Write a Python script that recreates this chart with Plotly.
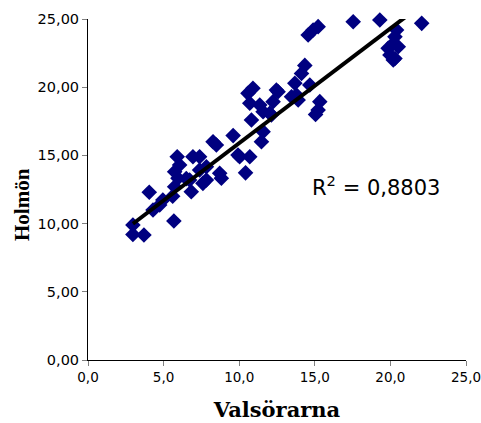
import plotly.graph_objects as go

valsorarna = [2.97, 2.97, 3.7, 4.05, 4.3, 4.74, 4.95, 5.68, 5.6, 5.73, 5.9, 5.73, 6.06, 5.95,
              6.5, 6.72, 6.83, 6.94, 7.38, 7.38, 7.6, 7.83, 7.83, 8.27, 8.49, 8.71, 8.82,
              9.6, 9.92, 10.03, 10.42, 10.7, 10.81, 10.7, 10.58, 10.91, 11.36, 11.58, 11.58,
              11.47, 12.02, 12.24, 12.57, 13.46, 13.68, 13.9, 14.12, 14.34, 13.79, 14.67,
              14.56, 14.89, 15.22, 15.33, 15.22, 15.05, 17.54, 19.3, 22.07, 20.41, 20.3,
              20.19, 20.52, 19.85, 19.97, 20.19, 20.3, 12.46, 12.13]
holmon = [9.9, 9.2, 9.16, 12.3, 11.0, 11.36, 11.73, 10.19, 12.0, 12.7, 14.9, 13.8, 14.3, 13.32,
          13.3, 13.2, 12.34, 14.9, 14.9, 13.93, 12.95, 14.17, 13.2, 16.0, 15.76, 13.69, 13.32,
          16.45, 15.03, 14.9, 13.72, 14.9, 17.6, 18.82, 19.55, 19.92, 18.7, 18.2, 16.74,
          16.0, 18.09, 18.94, 19.67, 19.3, 20.29, 19.06, 21.0, 21.6, 19.43, 20.16,
          23.83, 24.19, 24.44, 18.94, 18.33, 18.0, 24.8, 24.93, 24.68, 24.19, 23.7,
          23.2, 22.97, 22.85, 22.36, 21.99, 22.1, 19.8, 17.96]

trend_slope = 0.841
trend_intercept = 7.49
r2_label = "R<sup>2</sup> = 0,8803"
x_title = "Valsörarna"
y_title = "Holmön"
x_ticks = [0, 5, 10, 15, 20, 25]
y_ticks = [0, 5, 10, 15, 20, 25]

xmin, xmax = min(valsorarna), max(valsorarna)
trend_x = [xmin, xmax]
trend_y = [trend_slope * v + trend_intercept for v in trend_x]

fig = go.Figure()
fig.add_trace(go.Scatter(
    x=valsorarna, y=holmon, mode="markers",
    marker=dict(symbol="diamond", size=12, color="#000080", line=dict(width=0)),
    showlegend=False, cliponaxis=False))
fig.add_trace(go.Scatter(
    x=trend_x, y=trend_y, mode="lines",
    line=dict(color="black", width=4), showlegend=False))

fig.add_annotation(x=0.762, y=0.51, xref="paper", yref="paper", text=r2_label,
                   xanchor="center", yanchor="middle",
                   showarrow=False, font=dict(family="DejaVu Sans", size=21, color="black"))
fig.add_annotation(x=-0.175, y=0.457, xref="paper", yref="paper", text="<b>" + y_title + "</b>",
                   textangle=-90, xanchor="center", yanchor="middle", showarrow=False,
                   font=dict(family="Liberation Serif", size=21, color="black"))

fig.update_layout(
    width=481, height=423,
    margin=dict(l=88, r=15, t=19, b=63),
    paper_bgcolor="white", plot_bgcolor="white",
    separators=", ",
    font=dict(family="DejaVu Sans", size=14, color="black"),
)
fig.update_xaxes(range=[0, 25], tickvals=x_ticks, tickformat=".1f", automargin=False,
                 ticklabeloverflow="allow",
                 showgrid=False, zeroline=False, showline=True, linecolor="black", linewidth=1,
                 ticks="outside", ticklen=5, tickcolor="#808080", tickfont=dict(size=13.5),
                 title=dict(text="<b>" + x_title + "</b>", font=dict(family="DejaVu Serif", size=21), standoff=18))
fig.update_yaxes(range=[0, 25], tickvals=y_ticks, tickformat=".2f", automargin=False,
                 ticklabeloverflow="allow",
                 showgrid=False, zeroline=False, showline=True, linecolor="black", linewidth=1,
                 ticks="outside", ticklen=5, tickcolor="#808080", tickfont=dict(size=14.5))

fig.write_html("out.html", config={"displayModeBar": False},
               post_script="document.body.style.margin='0';document.body.style.overflow='hidden';")
